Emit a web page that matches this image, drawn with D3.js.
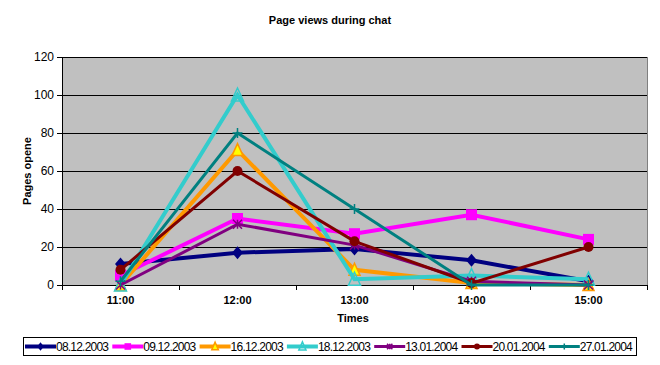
<!DOCTYPE html>
<html><head><meta charset="utf-8">
<script src="https://cdn.jsdelivr.net/npm/d3@7"></script>
<style>body{margin:0;background:#fff}svg{display:block;font-family:Arial,"Liberation Sans",sans-serif}</style>
</head><body>
<svg id="c" width="660" height="365"></svg>
<script>
const categories = ["11:00","12:00","13:00","14:00","15:00"];
const seriesNames = ["08.12.2003","09.12.2003","16.12.2003","18.12.2003","13.01.2004","20.01.2004","27.01.2004"];
const s0812 = [11, 17, 19, 13, 2];
const s0912 = [5, 35, 27, 37, 24];
const s1612 = [0, 71, 8, 1, 0];
const s1812 = [0, 100, 3, 5, 3];
const s1301 = [0, 32, 21, 2, 0];
const s2001 = [8, 60, 23, 1, 20];
const s2701 = [2, 80, 40, 0, 0];
const yTicks = [0,20,40,60,80,100,120];
const title = "Page views during chat";
const yTitle = "Pages opene";
const xTitle = "Times";

const values = [s0812,s0912,s1612,s1812,s1301,s2001,s2701];
const styles = [
  {line:"#000080", w:4, marker:"diamond", fill:"#000080", stroke:"#000080", size:11},
  {line:"#ff00ff", w:4, marker:"square", fill:"#ff00ff", stroke:"#ff00ff", size:11},
  {line:"#ff9900", w:4, marker:"triangle", fill:"#ffff00", stroke:"#ff9900", size:11},
  {line:"#33cccc", w:4, marker:"triangle", fill:"none", stroke:"#33cccc", size:12},
  {line:"#800080", w:3, marker:"star", fill:"none", stroke:"#800080", size:9},
  {line:"#800000", w:3, marker:"circle", fill:"#800000", stroke:"#800000", size:10},
  {line:"#008080", w:3, marker:"plus", fill:"none", stroke:"#008080", size:10}
];

const svg = d3.select("#c");
const L=62, R=647, T=57, B=285;
const x = d3.scaleBand().domain(categories).range([L,R]);
const y = d3.scaleLinear().domain([0,120]).range([B,T]);

svg.append("rect").attr("x",L).attr("y",T).attr("width",R-L).attr("height",B-T).attr("fill","#c0c0c0");
svg.append("g").selectAll("line").data(yTicks.slice(1)).join("line")
  .attr("x1",L).attr("x2",R).attr("y1",d=>y(d)).attr("y2",d=>y(d)).attr("stroke","#000").attr("stroke-width",1)
  .attr("shape-rendering","crispEdges");
svg.append("line").attr("x1",R).attr("x2",R).attr("y1",T).attr("y2",B).attr("stroke","#808080").attr("shape-rendering","crispEdges");

const yAxis = d3.axisLeft(y).tickValues(yTicks).tickSize(5).tickPadding(3);
const gy = svg.append("g").attr("transform",`translate(${L},0)`).call(yAxis);
gy.select(".domain").attr("stroke","#000");
gy.selectAll("text").attr("font-size",12).attr("fill","#000");
gy.selectAll("line").attr("shape-rendering","crispEdges");

const xb = d3.scaleLinear().domain([0,categories.length]).range([L,R]);
const gx = svg.append("g").attr("transform",`translate(0,${B})`);
gx.append("line").attr("x1",L).attr("x2",R).attr("stroke","#000").attr("shape-rendering","crispEdges");
gx.selectAll(".tk").data(d3.range(categories.length+1)).join("line").attr("class","tk")
  .attr("x1",d=>xb(d)).attr("x2",d=>xb(d)).attr("y1",0).attr("y2",5).attr("stroke","#000").attr("shape-rendering","crispEdges");
gx.selectAll("text").data(categories).join("text")
  .attr("x",d=>x(d)+x.bandwidth()/2).attr("y",19).attr("text-anchor","middle")
  .attr("font-size",11).attr("font-weight","bold").text(d=>d);

const line = d3.line().x((d,i)=>x(categories[i])+x.bandwidth()/2).y(d=>y(d));

function marker(g, type, cx, cy, st, scale){
  const s = st.size*(scale||1), h=s/2;
  if(type==="diamond") g.append("path").attr("d",`M${cx},${cy-h-1}L${cx+h},${cy}L${cx},${cy+h+1}L${cx-h},${cy}Z`).attr("fill",st.fill);
  else if(type==="square") g.append("rect").attr("x",cx-h).attr("y",cy-h).attr("width",s).attr("height",s).attr("fill",st.fill);
  else if(type==="triangle") g.append("path").attr("d",`M${cx},${cy-h-1}L${cx+h},${cy+h}L${cx-h},${cy+h}Z`)
     .attr("fill",st.fill).attr("stroke",st.stroke).attr("stroke-width",1.5);
  else if(type==="circle") g.append("circle").attr("cx",cx).attr("cy",cy).attr("r",h).attr("fill",st.fill);
  else if(type==="star") g.append("path").attr("d",`M${cx-h},${cy-h}L${cx+h},${cy+h}M${cx+h},${cy-h}L${cx-h},${cy+h}M${cx},${cy-h}L${cx},${cy+h}`)
     .attr("stroke",st.stroke).attr("stroke-width",1.5);
  else if(type==="plus") g.append("path").attr("d",`M${cx-h},${cy}L${cx+h},${cy}M${cx},${cy-h}L${cx},${cy+h}`)
     .attr("stroke",st.stroke).attr("stroke-width",1.5);
}

values.forEach((vals,k)=>{
  const st = styles[k];
  const g = svg.append("g");
  g.append("path").datum(vals).attr("d",line).attr("fill","none").attr("stroke",st.line).attr("stroke-width",st.w).attr("stroke-linejoin","miter");
  vals.forEach((v,i)=>marker(g, st.marker, x(categories[i])+x.bandwidth()/2, y(v), st));
});

svg.append("text").attr("x",330).attr("y",24).attr("text-anchor","middle").attr("font-size",11).attr("font-weight","bold").text(title);
svg.append("text").attr("transform","translate(31,171) rotate(-90)").attr("text-anchor","middle").attr("font-size",11).attr("font-weight","bold").text(yTitle);
svg.append("text").attr("x",353).attr("y",322).attr("text-anchor","middle").attr("font-size",11).attr("font-weight","bold").text(xTitle);

// legend
const lg = svg.append("g");
lg.append("rect").attr("x",23.5).attr("y",337.5).attr("width",613).attr("height",18).attr("fill","#fff").attr("stroke","#000");
seriesNames.forEach((n,k)=>{
  const st = styles[k];
  const x0 = 25 + k*87.3;
  lg.append("line").attr("x1",x0).attr("x2",x0+31).attr("y1",346.5).attr("y2",346.5).attr("stroke",st.line).attr("stroke-width",st.w);
  marker(lg, st.marker, x0+15.5, 346.5, st, 0.6);
  lg.append("text").attr("x",x0+31).attr("y",351).attr("font-size",12).attr("textLength",53).attr("lengthAdjust","spacing").text(n);
});
</script>
</body></html>
